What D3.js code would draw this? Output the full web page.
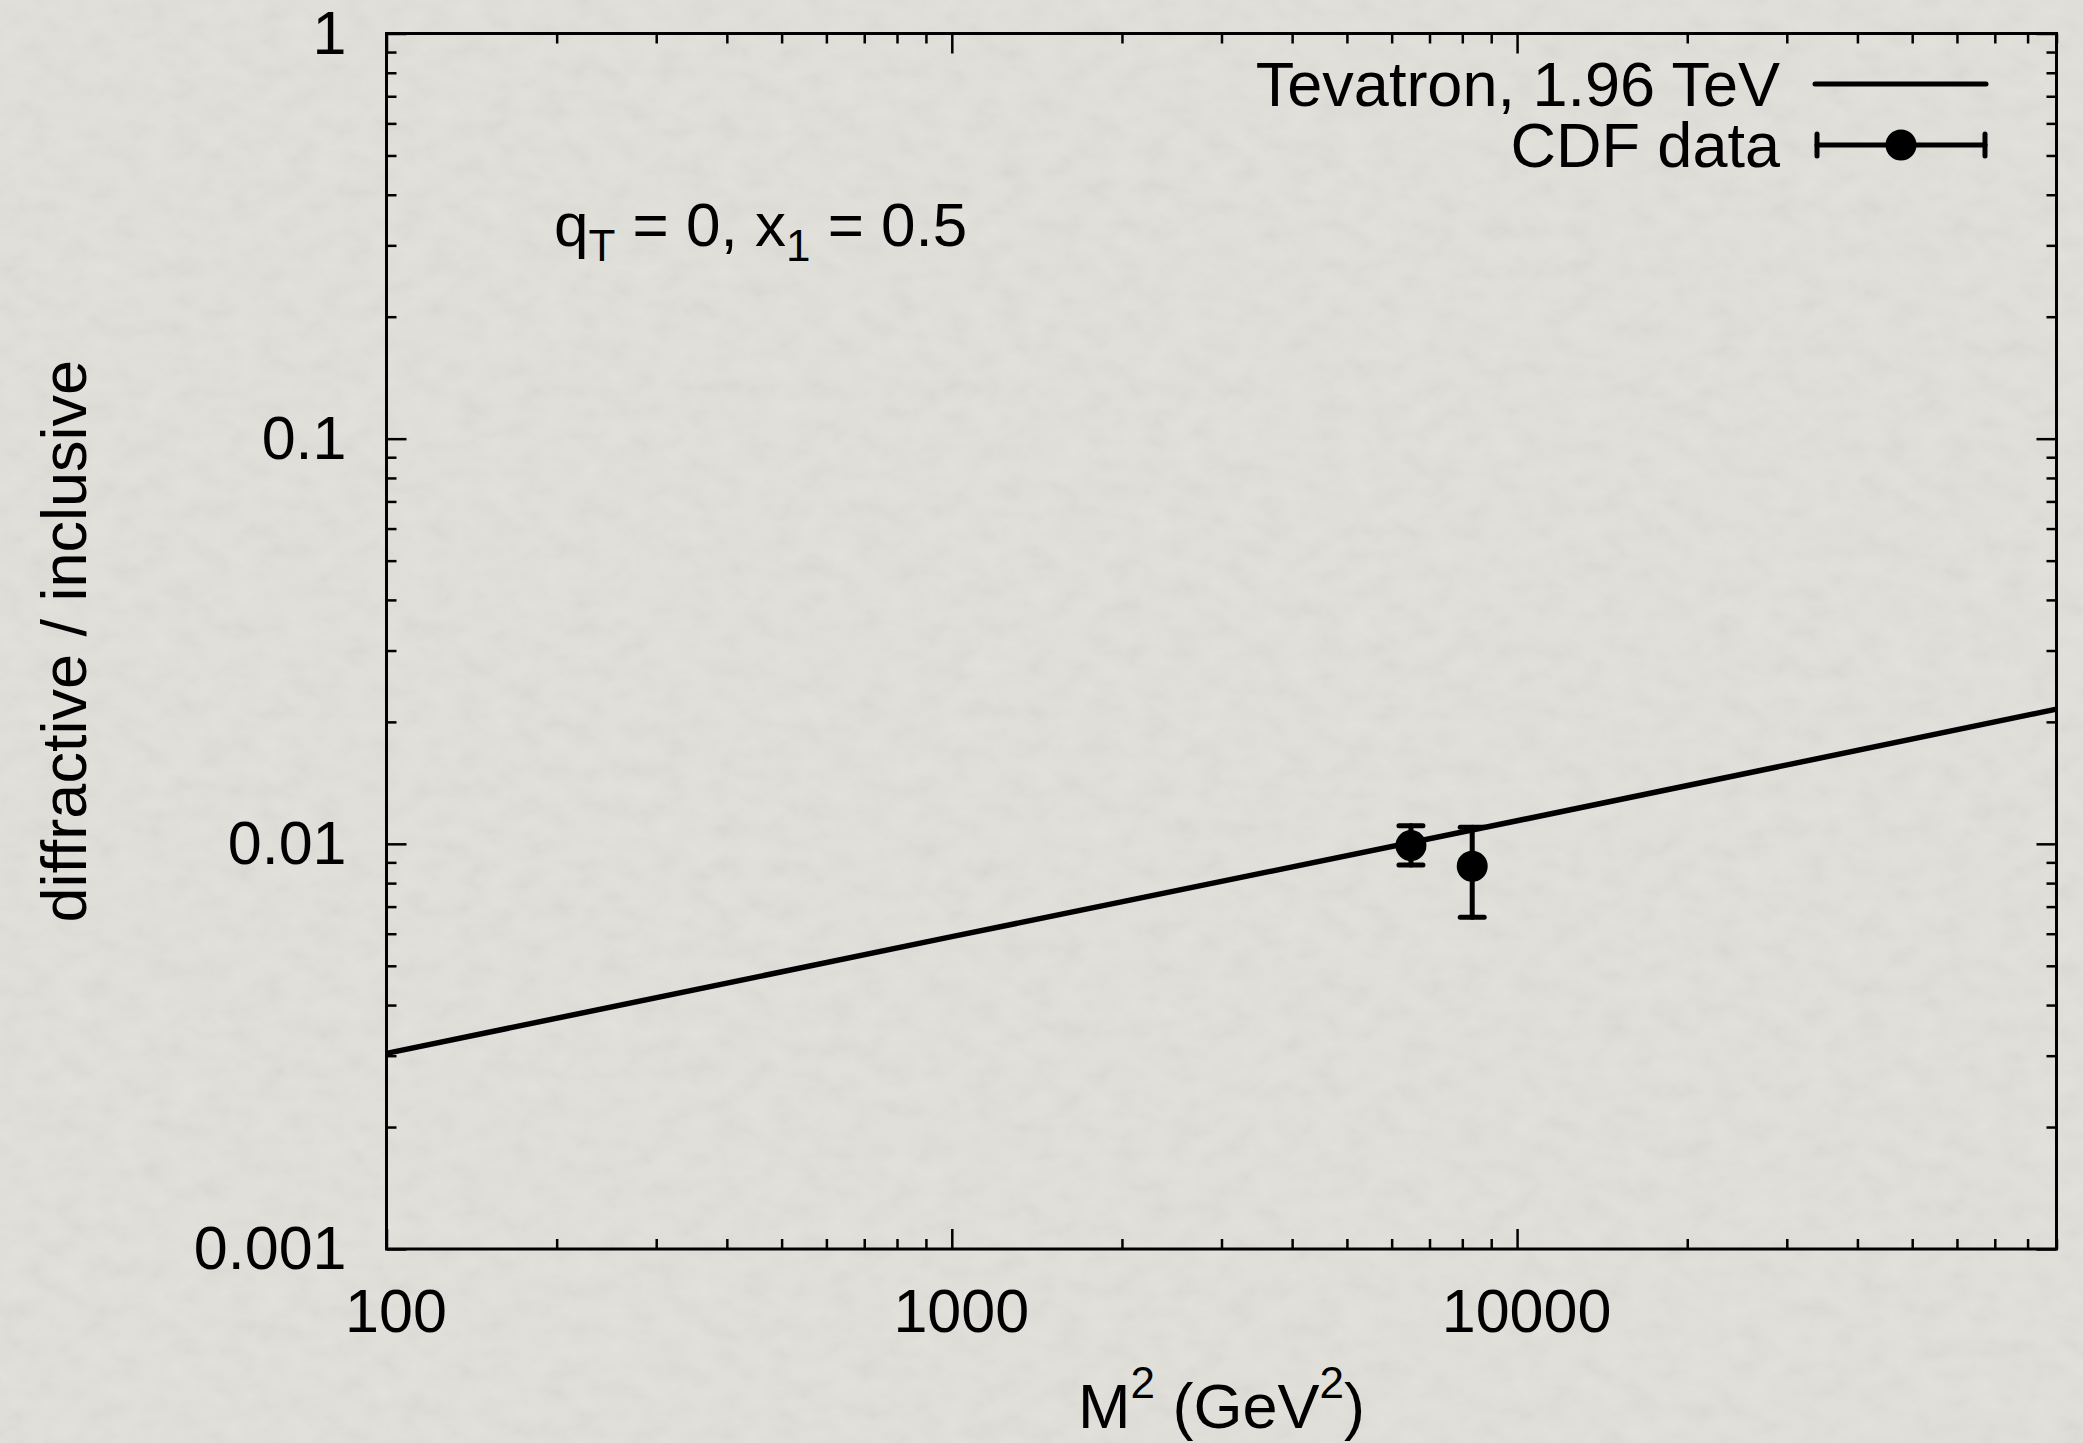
<!DOCTYPE html>
<html>
<head>
<meta charset="utf-8">
<script src="https://cdn.jsdelivr.net/npm/d3@7"></script>
<style>
  html, body { margin: 0; padding: 0; background: #dddbd6; }
  svg { display: block; font-family: "Liberation Sans", Arial, Helvetica, sans-serif; }
</style>
</head>
<body>
<svg id="chart" width="2083" height="1443"></svg>
<script>
// axis ranges and ticks
let xDomain = [100, 90000],
    yDomain = [0.001, 1];

let xMajorTicks = [100, 1000, 10000];
let xTickLabels = ['100', '1000', '10000'];
let xMinorTicks = [200, 300, 400, 500, 600, 700, 800, 900,
                   2000, 3000, 4000, 5000, 6000, 7000, 8000, 9000,
                   20000, 30000, 40000, 50000, 60000, 70000, 80000, 90000];

let yMajorTicks = [0.001, 0.01, 0.1, 1];
let yTickLabels = ['0.001', '0.01', '0.1', '1'];
let yMinorTicks = [0.002, 0.003, 0.004, 0.005, 0.006, 0.007, 0.008, 0.009,
                   0.02, 0.03, 0.04, 0.05, 0.06, 0.07, 0.08, 0.09,
                   0.2, 0.3, 0.4, 0.5, 0.6, 0.7, 0.8, 0.9];

// Tevatron 1.96 TeV curve
let curveM2 = [100, 1000, 10000, 90000];
let curveRatio = [0.00304, 0.00590, 0.01140, 0.0215];

// CDF data
let cdfM2 = [6490, 8330];
let cdfRatio = [0.0099, 0.0088];
let cdfLow = [0.00887, 0.00659];
let cdfHigh = [0.01109, 0.01099];

let svg = d3.select('#chart'),
    width = +svg.attr('width'),
    height = +svg.attr('height');

let margin = {top: 33.5, right: 26.5, bottom: 194, left: 386.5};
let w = width - margin.left - margin.right,
    h = height - margin.top - margin.bottom;

// paper texture background
let defs = svg.append('defs');
let paper = defs.append('filter')
  .attr('id', 'paper')
  .attr('x', 0).attr('y', 0).attr('width', '100%').attr('height', '100%');
paper.append('feTurbulence')
  .attr('type', 'fractalNoise')
  .attr('baseFrequency', '0.035 0.05')
  .attr('numOctaves', 3)
  .attr('seed', 7);
paper.append('feColorMatrix')
  .attr('type', 'matrix')
  .attr('values', '1 0 0 0 0  1 0 0 0 0  1 0 0 0 0  0 0 0 0 0.06');

svg.append('rect')
  .attr('width', width).attr('height', height)
  .attr('fill', '#e2e0da');
svg.append('rect')
  .attr('width', width).attr('height', height)
  .attr('filter', 'url(#paper)');

let g = svg.append('g')
  .attr('transform', `translate(${margin.left},${margin.top})`);

let x = d3.scaleLog().domain(xDomain).range([0, w]);
let y = d3.scaleLog().domain(yDomain).range([h, 0]);

const tickFont = 61,
    labelFont = 63;

function styleAxis(sel) {
  sel.select('.domain').remove();
  sel.selectAll('line').attr('stroke', '#000').attr('stroke-width', 2.5);
  sel.selectAll('text')
    .attr('fill', '#000')
    .style('font-size', tickFont + 'px');
}

// bottom
g.append('g')
  .attr('transform', `translate(0,${h})`)
  .call(d3.axisBottom(x).tickValues(xMajorTicks).tickSize(-20).tickPadding(40)
    .tickFormat((d, i) => xTickLabels[i]))
  .call(styleAxis)
  .selectAll('text')
  .attr('dx', 9);
g.append('g')
  .attr('transform', `translate(0,${h})`)
  .call(d3.axisBottom(x).tickValues(xMinorTicks).tickSize(-10).tickFormat(''))
  .call(styleAxis);

// top mirror
g.append('g')
  .call(d3.axisTop(x).tickValues(xMajorTicks).tickSize(-20).tickFormat(''))
  .call(styleAxis);
g.append('g')
  .call(d3.axisTop(x).tickValues(xMinorTicks).tickSize(-10).tickFormat(''))
  .call(styleAxis);

// left
g.append('g')
  .call(d3.axisLeft(y).tickValues(yMajorTicks).tickSize(-20).tickPadding(40)
    .tickFormat((d, i) => yTickLabels[i]))
  .call(styleAxis);
g.append('g')
  .call(d3.axisLeft(y).tickValues(yMinorTicks).tickSize(-10).tickFormat(''))
  .call(styleAxis);

// right mirror
g.append('g')
  .attr('transform', `translate(${w},0)`)
  .call(d3.axisRight(y).tickValues(yMajorTicks).tickSize(-20).tickFormat(''))
  .call(styleAxis);
g.append('g')
  .attr('transform', `translate(${w},0)`)
  .call(d3.axisRight(y).tickValues(yMinorTicks).tickSize(-10).tickFormat(''))
  .call(styleAxis);

// frame
g.append('rect')
  .attr('width', w).attr('height', h)
  .attr('fill', 'none')
  .attr('stroke', '#000')
  .attr('stroke-width', 3);

// curve
let curve = curveM2.map((m, i) => ({m: m, r: curveRatio[i]}));
g.append('path')
  .datum(curve)
  .attr('fill', 'none')
  .attr('stroke', '#000')
  .attr('stroke-width', 5.5)
  .attr('d', d3.line().x((d) => x(d.m)).y((d) => y(d.r)));

// data points with error bars
let cdf = cdfM2.map((m, i) => ({m: m, r: cdfRatio[i], lo: cdfLow[i], hi: cdfHigh[i]}));
const capHalf = 12,
    dotRadius = 15.5;

let pts = g.append('g')
  .attr('stroke', '#000')
  .attr('stroke-width', 5)
  .attr('stroke-linecap', 'round')
  .selectAll('g')
  .data(cdf)
  .enter()
  .append('g');

pts.append('line')
  .attr('x1', (d) => x(d.m)).attr('x2', (d) => x(d.m))
  .attr('y1', (d) => y(d.lo)).attr('y2', (d) => y(d.hi));
pts.append('line')
  .attr('x1', (d) => x(d.m) - capHalf).attr('x2', (d) => x(d.m) + capHalf)
  .attr('y1', (d) => y(d.hi)).attr('y2', (d) => y(d.hi));
pts.append('line')
  .attr('x1', (d) => x(d.m) - capHalf).attr('x2', (d) => x(d.m) + capHalf)
  .attr('y1', (d) => y(d.lo)).attr('y2', (d) => y(d.lo));
pts.append('circle')
  .attr('cx', (d) => x(d.m))
  .attr('cy', (d) => y(d.r))
  .attr('r', dotRadius - 2)
  .attr('fill', '#000')
  .attr('stroke-width', 4);

// legend
let legend = svg.append('g')
  .style('font-size', labelFont + 'px');

legend.append('text')
  .attr('x', 1780).attr('y', 84).attr('dy', 22)
  .attr('text-anchor', 'end')
  .text('Tevatron, 1.96 TeV');
legend.append('line')
  .attr('x1', 1815).attr('x2', 1986)
  .attr('y1', 84).attr('y2', 84)
  .attr('stroke', '#000').attr('stroke-width', 5).attr('stroke-linecap', 'round');

legend.append('text')
  .attr('x', 1780).attr('y', 145).attr('dy', 22)
  .attr('text-anchor', 'end')
  .text('CDF data');
let sample = legend.append('g')
  .attr('stroke', '#000').attr('stroke-width', 5).attr('stroke-linecap', 'round');
sample.append('line').attr('x1', 1817).attr('x2', 1985).attr('y1', 145).attr('y2', 145);
sample.append('line').attr('x1', 1817).attr('x2', 1817).attr('y1', 134).attr('y2', 156);
sample.append('line').attr('x1', 1985).attr('x2', 1985).attr('y1', 134).attr('y2', 156);
sample.append('circle').attr('cx', 1901).attr('cy', 145).attr('r', dotRadius - 2)
  .attr('fill', '#000').attr('stroke-width', 4);

// annotation
let note = svg.append('text')
  .attr('x', 554).attr('y', 246)
  .style('font-size', '62px');
note.append('tspan').text('q');
note.append('tspan').attr('dy', 15).style('font-size', '44px').text('T');
note.append('tspan').attr('dy', -15).text(' = 0, x');
note.append('tspan').attr('dy', 15).style('font-size', '44px').text('1');
note.append('tspan').attr('dy', -15).text(' = 0.5');

// axis labels
let xLabel = svg.append('text')
  .attr('x', margin.left + w / 2).attr('y', 1428)
  .attr('text-anchor', 'middle')
  .style('font-size', labelFont + 'px');
xLabel.append('tspan').text('M');
xLabel.append('tspan').attr('dy', -30).style('font-size', '44px').text('2');
xLabel.append('tspan').attr('dy', 30).text(' (GeV');
xLabel.append('tspan').attr('dy', -30).style('font-size', '44px').text('2');
xLabel.append('tspan').attr('dy', 30).text(')');

svg.append('text')
  .attr('transform', `translate(86,${margin.top + h / 2}) rotate(-90)`)
  .attr('text-anchor', 'middle')
  .style('font-size', labelFont + 'px')
  .text('diffractive / inclusive');
</script>
</body>
</html>
